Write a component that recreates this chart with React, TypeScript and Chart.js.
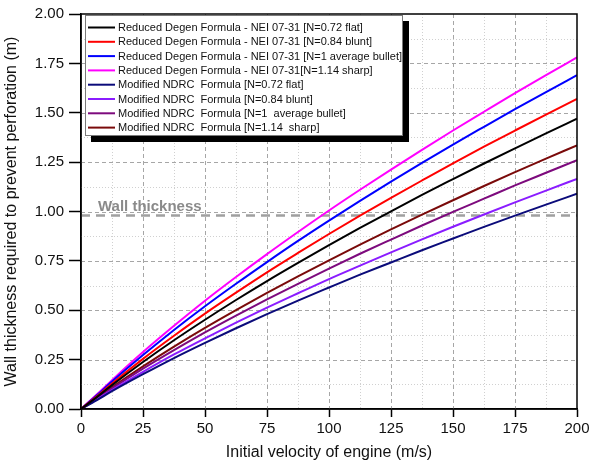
import React, { useEffect, useRef } from 'react';
import { Chart, registerables } from 'chart.js';

Chart.register(...registerables);

// ---------- data ----------
const VELOCITY = [0, 6.25, 12.5, 25, 37.5, 50, 62.5, 75, 87.5, 100, 112.5, 125, 137.5, 150, 162.5, 175, 187.5, 200];

const DEGEN_072 = [0, 0.059, 0.121, 0.238, 0.348, 0.452, 0.552, 0.648, 0.740, 0.830, 0.917, 1.001, 1.084, 1.164, 1.243, 1.320, 1.396, 1.47];
const DEGEN_084 = [0, 0.063, 0.129, 0.254, 0.371, 0.483, 0.589, 0.692, 0.790, 0.886, 0.979, 1.069, 1.157, 1.244, 1.328, 1.410, 1.491, 1.57];
const DEGEN_100 = [0, 0.068, 0.139, 0.273, 0.400, 0.520, 0.634, 0.744, 0.851, 0.954, 1.054, 1.151, 1.246, 1.339, 1.429, 1.518, 1.605, 1.69];
const DEGEN_114 = [0, 0.072, 0.146, 0.288, 0.421, 0.548, 0.668, 0.784, 0.896, 1.005, 1.110, 1.212, 1.312, 1.410, 1.505, 1.599, 1.690, 1.78];
const NDRC_072 = [0, 0.044, 0.090, 0.176, 0.258, 0.335, 0.409, 0.480, 0.549, 0.615, 0.680, 0.742, 0.804, 0.863, 0.922, 0.979, 1.035, 1.09];
const NDRC_084 = [0, 0.047, 0.096, 0.188, 0.276, 0.358, 0.437, 0.513, 0.586, 0.658, 0.726, 0.793, 0.859, 0.923, 0.985, 1.046, 1.106, 1.165];
const NDRC_100 = [0, 0.051, 0.104, 0.204, 0.298, 0.388, 0.473, 0.555, 0.634, 0.711, 0.786, 0.858, 0.929, 0.998, 1.065, 1.132, 1.196, 1.26];
const NDRC_114 = [0, 0.054, 0.110, 0.216, 0.316, 0.411, 0.501, 0.588, 0.672, 0.753, 0.832, 0.909, 0.984, 1.057, 1.129, 1.199, 1.268, 1.335];

const SERIES_LABELS = [
  'Reduced Degen Formula - NEI 07-31 [N=0.72 flat]',
  'Reduced Degen Formula - NEI 07-31 [N=0.84 blunt]',
  'Reduced Degen Formula - NEI 07-31 [N=1 average bullet]',
  'Reduced Degen Formula - NEI 07-31[N=1.14 sharp]',
  'Modified NDRC  Formula [N=0.72 flat]',
  'Modified NDRC  Formula [N=0.84 blunt]',
  'Modified NDRC  Formula [N=1  average bullet]',
  'Modified NDRC  Formula [N=1.14  sharp]',
];
const SERIES_VALUES = [DEGEN_072, DEGEN_084, DEGEN_100, DEGEN_114, NDRC_072, NDRC_084, NDRC_100, NDRC_114];
const SERIES_COLORS = ['#000000', '#ff0000', '#0000ff', '#ff00ff', '#0b0b7a', '#8a1cff', '#7d0a7d', '#7a0a0a'];

const WALL_X = [0, 200];
const WALL_Y = [0.98, 0.98];
const WALL_LABEL = 'Wall thickness';

const X_MIN = 0, X_MAX = 200, X_MAJOR = 25, X_MINOR = 12.5;
const Y_MIN = 0, Y_MAX = 2, Y_MAJOR = 0.25, Y_MINOR = 0.125;

const X_TITLE = 'Initial velocity of engine (m/s)';
const Y_TITLE = 'Wall thickness required to prevent perforation (m)';

const FONT = '"Liberation Sans", Arial, sans-serif';

// ---------- plugins ----------
const gridPlugin = {
  id: 'customGrid',
  beforeDatasetsDraw(chart: any) {
    const { ctx, chartArea: a, scales } = chart;
    const xs = scales.x, ys = scales.y;
    ctx.save();
    ctx.lineWidth = 1;
    const steps = Math.round((X_MAX - X_MIN) / X_MINOR);
    for (let i = 1; i < steps; i++) {
      const v = X_MIN + i * X_MINOR;
      const major = Math.abs(v / X_MAJOR - Math.round(v / X_MAJOR)) < 1e-6;
      const px = Math.round(xs.getPixelForValue(v)) + 0.5;
      ctx.strokeStyle = major ? '#a6a6a6' : '#d0d0d0';
      ctx.setLineDash(major ? [4, 3] : [1, 2]);
      ctx.beginPath();
      ctx.moveTo(px, a.top);
      ctx.lineTo(px, a.bottom);
      ctx.stroke();
    }
    const ysteps = Math.round((Y_MAX - Y_MIN) / Y_MINOR);
    for (let i = 1; i < ysteps; i++) {
      const v = Y_MIN + i * Y_MINOR;
      const major = Math.abs(v / Y_MAJOR - Math.round(v / Y_MAJOR)) < 1e-6;
      const py = Math.round(ys.getPixelForValue(v)) + 0.5;
      ctx.strokeStyle = major ? '#a6a6a6' : '#d0d0d0';
      ctx.setLineDash(major ? [4, 3] : [1, 2]);
      ctx.beginPath();
      ctx.moveTo(a.left, py);
      ctx.lineTo(a.right, py);
      ctx.stroke();
    }
    ctx.restore();
  },
  afterDatasetsDraw(chart: any) {
    const { ctx, chartArea: a, scales } = chart;
    const xs = scales.x, ys = scales.y;
    ctx.save();
    // wall label
    ctx.font = 'bold 15px ' + FONT;
    ctx.fillStyle = '#8a8a8a';
    ctx.textBaseline = 'alphabetic';
    ctx.textAlign = 'left';
    ctx.fillText(WALL_LABEL, xs.getPixelForValue(X_MIN) + 17, ys.getPixelForValue(WALL_Y[0]) - 4);
    // frame
    ctx.strokeStyle = '#000';
    ctx.lineWidth = 1.5;
    ctx.strokeRect(a.left, a.top, a.right - a.left, a.bottom - a.top);

    // legend
    const bx = a.left + 4, by = a.top + 1, bw = 318, bh = 121;
    ctx.fillStyle = '#000';
    ctx.fillRect(bx + 6, by + 6, bw, bh);
    ctx.fillStyle = '#fff';
    ctx.fillRect(bx, by, bw, bh);
    ctx.save();
    ctx.beginPath();
    ctx.rect(bx, by, bw - 1, bh);
    ctx.clip();
    ctx.font = '11px ' + FONT;
    ctx.textBaseline = 'middle';
    const items = chart.data.datasets.filter((d: any) => d.label);
    items.forEach((d: any, i: number) => {
      const cy = by + 12.5 + i * 14.3;
      ctx.strokeStyle = d.borderColor;
      ctx.lineWidth = 2;
      ctx.beginPath();
      ctx.moveTo(bx + 3, cy);
      ctx.lineTo(bx + 30, cy);
      ctx.stroke();
      ctx.fillStyle = '#111';
      ctx.fillText(d.label, bx + 33, cy + 0.5);
    });
    ctx.restore();
    ctx.strokeStyle = '#7a7a7a';
    ctx.lineWidth = 1;
    ctx.strokeRect(bx + 0.5, by + 0.5, bw - 1, bh - 1);
    ctx.restore();
  },
};

export default function App() {
  const ref = useRef<HTMLCanvasElement>(null);
  useEffect(() => {
    document.body.style.margin = '0';
    const canvas = ref.current!;
    const datasets: any[] = SERIES_VALUES.map((vals, i) => ({
      label: SERIES_LABELS[i],
      data: VELOCITY.map((v, j) => ({ x: v, y: vals[j] })),
      borderColor: SERIES_COLORS[i],
      backgroundColor: SERIES_COLORS[i],
      borderWidth: 2,
      pointRadius: 0,
      cubicInterpolationMode: 'monotone',
      fill: false,
    }));
    datasets.push({
      label: '',
      data: WALL_X.map((v, j) => ({ x: v, y: WALL_Y[j] })),
      borderColor: '#a0a0a0',
      borderWidth: 2.5,
      borderDash: [9, 6],
      pointRadius: 0,
      fill: false,
    });
    const tickFont = { family: FONT, size: 15 };
    const chart = new Chart(canvas, {
      type: 'line',
      data: { datasets },
      options: {
        animation: false,
        responsive: false,
        devicePixelRatio: 1,
        layout: { padding: { left: 0, top: 9, right: 16, bottom: 0 } },
        plugins: { legend: { display: false }, tooltip: { enabled: false } },
        scales: {
          x: {
            type: 'linear',
            min: X_MIN,
            max: X_MAX,
            grid: { drawOnChartArea: false, drawTicks: true, tickLength: 8, tickColor: '#000', tickWidth: 1.5 },
            border: { color: '#000', width: 1.5 },
            ticks: { stepSize: X_MAJOR, color: '#111', font: tickFont, padding: 3, maxRotation: 0 },
            title: { display: true, text: X_TITLE, color: '#111', font: { family: FONT, size: 16 }, padding: { top: 0, bottom: 10 } },
            afterFit: (s: any) => { s.height = 63; },
          },
          y: {
            type: 'linear',
            min: Y_MIN,
            max: Y_MAX,
            grid: { drawOnChartArea: false, drawTicks: true, tickLength: 12, tickColor: '#000', tickWidth: 1.5 },
            border: { color: '#000', width: 1.5 },
            ticks: { stepSize: Y_MAJOR, color: '#111', font: tickFont, padding: 5, callback: (v: any) => Number(v).toFixed(2) },
            title: { display: true, text: Y_TITLE, color: '#111', font: { family: FONT, size: 16 }, padding: { top: 2, bottom: 0 } },
            afterFit: (s: any) => { s.width = 81; },
          },
        },
      },
      plugins: [gridPlugin],
    } as any);
    return () => chart.destroy();
  }, []);
  return (
    <div style={{ width: 593, height: 472 }}>
      <canvas ref={ref} width={593} height={472} style={{ display: 'block' }} />
    </div>
  );
}
